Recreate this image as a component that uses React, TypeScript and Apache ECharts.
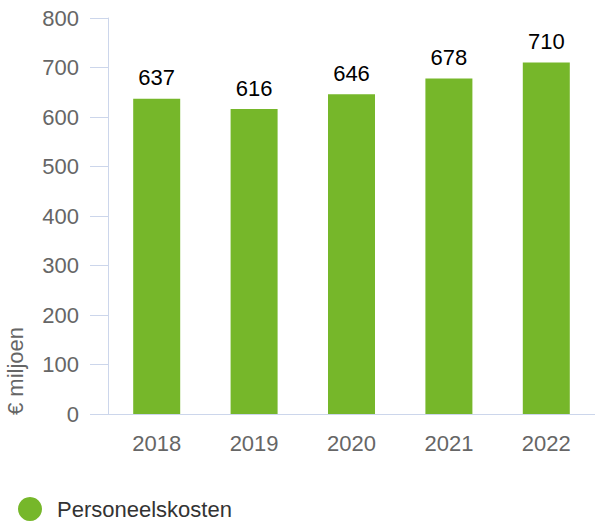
import React, { useEffect, useRef } from "react";
import * as echarts from "echarts";

const categories = ["2018", "2019", "2020", "2021", "2022"];
const values = [637, 616, 646, 678, 710];
const seriesName = "Personeelskosten";
const yAxisTitle = "€ miljoen";

export default function App() {
  const ref = useRef<HTMLDivElement>(null);
  useEffect(() => {
    const chart = echarts.init(ref.current!, null, { renderer: "svg" });
    const font = "'Liberation Sans', Arial, Helvetica, sans-serif";
    chart.setOption({
      animation: false,
      textStyle: { fontFamily: font },
      grid: { left: 108, top: 18, width: 491, height: 396 },
      xAxis: {
        type: "category",
        data: categories,
        axisLine: { show: true, lineStyle: { color: "#ccd6eb", width: 1 } },
        axisTick: { show: false },
        axisLabel: { color: "#666666", fontSize: 22, margin: 18, fontFamily: font },
      },
      yAxis: {
        type: "value",
        min: 0,
        max: 800,
        interval: 100,
        splitLine: { show: false },
        axisLine: { show: true, lineStyle: { color: "#ccd6eb", width: 1 } },
        axisTick: { show: true, length: 18, lineStyle: { color: "#ccd6eb", width: 1 } },
        axisLabel: { color: "#666666", fontSize: 22, margin: 29, fontFamily: font },
      },
      legend: {
        show: true,
        left: 18,
        top: 497,
        padding: 0,
        icon: "circle",
        itemWidth: 44,
        itemHeight: 24,
        itemGap: 10,
        textStyle: { color: "#333333", fontSize: 22, fontFamily: font, padding: [0, 0, 5, 0] },
        data: [seriesName],
      },
      graphic: [
        {
          type: "text",
          x: 15,
          y: 415,
          rotation: Math.PI / 2,
          style: {
            text: yAxisTitle,
            fill: "#666666",
            fontSize: 22,
            fontFamily: font,
            textAlign: "left",
            textVerticalAlign: "middle",
          },
        },
      ],
      series: [
        {
          name: seriesName,
          type: "bar",
          data: values,
          barWidth: 47,
          itemStyle: { color: "#76b72a" },
          label: {
            show: true,
            position: "top",
            distance: 10,
            color: "#000000",
            fontSize: 22,
            fontFamily: font,
          },
        },
      ],
    });
    return () => chart.dispose();
  }, []);
  return <div ref={ref} style={{ width: 595, height: 521, position: "absolute", left: 0, top: 0 }} />;
}
